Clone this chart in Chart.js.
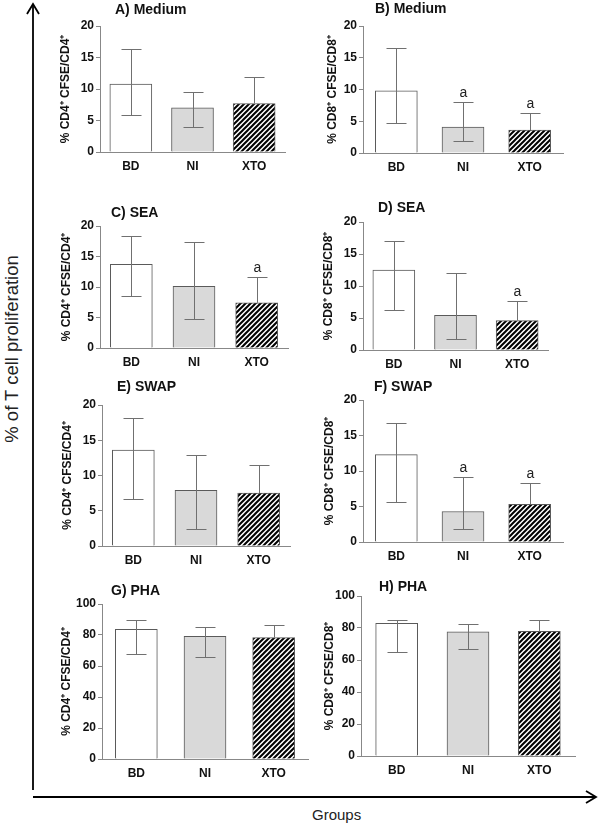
<!DOCTYPE html>
<html>
<head>
<meta charset="utf-8">
<script src="https://cdn.jsdelivr.net/npm/chart.js@4.4.0/dist/chart.umd.min.js"></script>
<style>
  body { margin: 0; background: #fff; }
  #page { position: relative; width: 600px; height: 826px; overflow: hidden; background: #fff; }
  canvas { position: absolute; }
  .big { position: absolute; font-family: "Liberation Sans", Arial, sans-serif; color: #222; white-space: nowrap; }
</style>
</head>
<body>
<div id="page">
  <svg width="600" height="826" style="position:absolute;left:0;top:0">
    <g stroke="#000" stroke-width="1.8" fill="none">
      <line x1="33" y1="790" x2="33" y2="4"/>
      <polyline points="27,14 33,4 39,14"/>
      <line x1="33" y1="797" x2="596" y2="797"/>
      <polyline points="586,791 596,797 586,803"/>
    </g>
  </svg>
  <div class="big" id="ylab" style="font-size:18.5px;left:12px;top:349px;transform:translate(-50%,-50%) rotate(-90deg)">% of T cell proliferation</div>
  <div class="big" style="font-size:15px;left:312px;top:806px">Groups</div>
</div>
<script>
// groups on the x axis
const categories = ['BD', 'NI', 'XTO'];

// mean, lower and upper error values per panel (null = hidden behind hatching)
const cd4MediumMean = [10.8, 7.0, 7.7];
const cd4MediumLow  = [5.8, 3.9, null];
const cd4MediumHigh = [16.3, 9.6, 11.9];
const cd4MediumSig  = ['', '', ''];

const cd8MediumMean = [9.8, 4.1, 3.6];
const cd8MediumLow  = [4.7, 1.9, null];
const cd8MediumHigh = [16.6, 8.1, 6.3];
const cd8MediumSig  = ['', 'a', 'a'];

const cd4SeaMean = [13.7, 10.1, 7.4];
const cd4SeaLow  = [8.6, 4.7, null];
const cd4SeaHigh = [18.4, 17.3, 11.6];
const cd4SeaSig  = ['', '', 'a'];

const cd8SeaMean = [12.5, 5.4, 4.6];
const cd8SeaLow  = [6.2, 1.7, null];
const cd8SeaHigh = [17.0, 12.0, 7.6];
const cd8SeaSig  = ['', '', 'a'];

const cd4SwapMean = [13.6, 7.9, 7.5];
const cd4SwapLow  = [6.6, 2.4, null];
const cd4SwapHigh = [18.1, 12.9, 11.5];
const cd4SwapSig  = ['', '', ''];

const cd8SwapMean = [12.3, 4.3, 5.3];
const cd8SwapLow  = [5.6, 1.9, null];
const cd8SwapHigh = [16.8, 9.2, 8.3];
const cd8SwapSig  = ['', 'a', 'a'];

const cd4PhaMean = [83.6, 79.2, 78.3];
const cd4PhaLow  = [67.6, 65.7, null];
const cd4PhaHigh = [89.8, 85.0, 86.3];
const cd4PhaSig  = ['', '', ''];

const cd8PhaMean = [82.9, 77.6, 77.9];
const cd8PhaLow  = [65.2, 66.9, null];
const cd8PhaHigh = [85.0, 82.4, 84.9];
const cd8PhaSig  = ['', '', ''];

const cd4Label = '% CD4\u207A CFSE/CD4\u207A';
const cd8Label = '% CD8\u207A CFSE/CD8\u207A';

const FONT = '"Liberation Sans", Arial, sans-serif';

function makeHatch() {
    const c = document.createElement('canvas');
    c.width = 5; c.height = 5;
    const g = c.getContext('2d');
    g.fillStyle = '#fff';
    g.fillRect(0, 0, 5, 5);
    g.strokeStyle = '#000';
    g.lineWidth = 2;
    g.beginPath();
    g.moveTo(-1, 6); g.lineTo(6, -1);
    g.moveTo(-1, 1); g.lineTo(1, -1);
    g.moveTo(4, 6); g.lineTo(6, 4);
    g.stroke();
    return g.createPattern(c, 'repeat');
}
const hatch = makeHatch();

// error bars, significance letters and panel title
const panelExtras = {
    id: 'panelExtras',
    afterDatasetsDraw(chart) {
        const o = chart.options.plugins.panelExtras;
        const ctx = chart.ctx;
        const y = chart.scales.y;
        const meta = chart.getDatasetMeta(0);
        ctx.save();
        ctx.strokeStyle = '#707070';
        ctx.lineWidth = 1;
        meta.data.forEach((bar, i) => {
            const x = Math.round(bar.x) + 0.5;
            const yHigh = Math.round(y.getPixelForValue(o.high[i])) + 0.5;
            const yLow = o.low[i] == null ? bar.y : Math.round(y.getPixelForValue(o.low[i])) + 0.5;
            ctx.beginPath();
            ctx.moveTo(x, yLow); ctx.lineTo(x, yHigh);
            ctx.moveTo(x - 10, yHigh); ctx.lineTo(x + 10, yHigh);
            if (o.low[i] != null) { ctx.moveTo(x - 10, yLow); ctx.lineTo(x + 10, yLow); }
            ctx.stroke();
            if (o.sig[i]) {
                ctx.fillStyle = '#222';
                ctx.font = '14px ' + FONT;
                ctx.textAlign = 'center';
                ctx.textBaseline = 'alphabetic';
                ctx.fillText(o.sig[i], x, yHigh - 6);
            }
        });
        ctx.fillStyle = '#111';
        ctx.font = 'bold 14px ' + FONT;
        ctx.textAlign = 'left';
        ctx.textBaseline = 'middle';
        ctx.fillText(o.title, chart.chartArea.left + o.tdx, chart.chartArea.top - o.tdy);
        ctx.restore();
    }
};

// panel geometry: chart area edges (page px), y-title centre, title offset
const panels = [
    { title: 'A) Medium', mean: cd4MediumMean, low: cd4MediumLow, high: cd4MediumHigh, sig: cd4MediumSig, label: cd4Label, max: 20, step: 5,
      left: 100, right: 285, top: 26, bottom: 152, tx: 65, tdx: 15, tdy: 16 },
    { title: 'B) Medium', mean: cd8MediumMean, low: cd8MediumLow, high: cd8MediumHigh, sig: cd8MediumSig, label: cd8Label, max: 20, step: 5,
      left: 363, right: 563, top: 26, bottom: 153, tx: 332, tdx: 12, tdy: 17 },
    { title: 'C) SEA', mean: cd4SeaMean, low: cd4SeaLow, high: cd4SeaHigh, sig: cd4SeaSig, label: cd4Label, max: 20, step: 5,
      left: 100, right: 288, top: 226, bottom: 348, tx: 66, tdx: 11, tdy: 13 },
    { title: 'D) SEA', mean: cd8SeaMean, low: cd8SeaLow, high: cd8SeaHigh, sig: cd8SeaSig, label: cd8Label, max: 20, step: 5,
      left: 363, right: 548, top: 222, bottom: 350, tx: 328, tdx: 15, tdy: 14 },
    { title: 'E) SWAP', mean: cd4SwapMean, low: cd4SwapLow, high: cd4SwapHigh, sig: cd4SwapSig, label: cd4Label, max: 20, step: 5,
      left: 102, right: 290, top: 405, bottom: 546, tx: 67, tdx: 15, tdy: 18 },
    { title: 'F) SWAP', mean: cd8SwapMean, low: cd8SwapLow, high: cd8SwapHigh, sig: cd8SwapSig, label: cd8Label, max: 20, step: 5,
      left: 363, right: 563, top: 400, bottom: 542, tx: 329, tdx: 11, tdy: 13 },
    { title: 'G) PHA', mean: cd4PhaMean, low: cd4PhaLow, high: cd4PhaHigh, sig: cd4PhaSig, label: cd4Label, max: 100, step: 20,
      left: 102, right: 308, top: 604, bottom: 759, tx: 66, tdx: 9, tdy: 13 },
    { title: 'H) PHA', mean: cd8PhaMean, low: cd8PhaLow, high: cd8PhaHigh, sig: cd8PhaSig, label: cd8Label, max: 100, step: 20,
      left: 361, right: 575, top: 596, bottom: 756, tx: 329, tdx: 18, tdy: 9 }
];

const page = document.getElementById('page');
const PAD_TOP = 26, X_AXIS_H = 30, PAD_RIGHT = 4;

panels.forEach(p => {
    const cLeft = Math.round(p.tx - 7);
    const cTop = p.top - PAD_TOP;
    const canvas = document.createElement('canvas');
    canvas.width = p.right - cLeft + PAD_RIGHT;
    canvas.height = PAD_TOP + (p.bottom - p.top) + X_AXIS_H;
    canvas.style.left = cLeft + 'px';
    canvas.style.top = cTop + 'px';
    page.appendChild(canvas);

    new Chart(canvas, {
        type: 'bar',
        data: {
            labels: categories,
            datasets: [{
                data: p.mean,
                backgroundColor: ['#ffffff', '#d9d9d9', hatch],
                borderColor: '#5a5a5a',
                borderWidth: 1,
                barThickness: 42
            }]
        },
        options: {
            responsive: false,
            animation: false,
            layout: { padding: { top: PAD_TOP, right: PAD_RIGHT, left: 0, bottom: 0 } },
            plugins: {
                legend: { display: false },
                tooltip: { enabled: false },
                panelExtras: { title: p.title, low: p.low, high: p.high, sig: p.sig, tdx: p.tdx, tdy: p.tdy }
            },
            scales: {
                x: {
                    grid: { display: false, drawTicks: false },
                    border: { display: true, color: '#888', width: 1 },
                    ticks: { color: '#111', font: { family: FONT, size: 12, weight: 'bold' }, padding: 7 },
                    afterFit: s => { s.height = X_AXIS_H; }
                },
                y: {
                    min: 0,
                    max: p.max,
                    grid: { drawOnChartArea: false, drawTicks: true, tickLength: 4, color: '#888' },
                    border: { display: true, color: '#888', width: 1 },
                    ticks: { stepSize: p.step, color: '#111', font: { family: FONT, size: 12, weight: 'bold' }, padding: 2 },
                    title: { display: true, text: p.label, color: '#111', padding: 0, font: { family: FONT, size: 12, weight: 'bold' } },
                    afterFit: s => { s.width = p.left - cLeft; }
                }
            }
        },
        plugins: [panelExtras]
    });
});
</script>
</body>
</html>
